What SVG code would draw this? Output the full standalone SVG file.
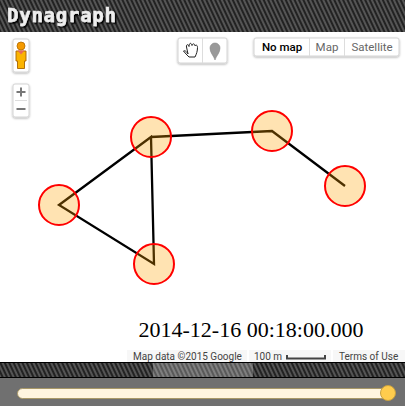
<svg xmlns="http://www.w3.org/2000/svg" width="405" height="406" viewBox="0 0 405 406">
<style>
.ui{font-family:"Roboto","Liberation Sans",sans-serif}
.node{fill:#ffa200;fill-opacity:.3;stroke:#ff0000;stroke-width:2}
.edge{stroke:#000;stroke-width:2.300;fill:none;stroke-linejoin:miter}
.ctl{fill:#fff;stroke:#d4d4d4;stroke-width:1;filter:url(#sh)}
.foot{font-size:10px;fill:#444}
.foot-bg{fill:#f5f5f5;fill-opacity:.8}
</style>
<defs>
<pattern id="st" width="4" height="4" patternUnits="userSpaceOnUse" patternTransform="rotate(-25)">
<rect width="4" height="4" fill="#222"/><rect width="2" height="4" fill="#555"/>
</pattern>
<filter id="sh" x="-20%" y="-20%" width="140%" height="140%"><feDropShadow dx="0" dy="1" stdDeviation="1" flood-color="#000" flood-opacity=".3"/></filter>
<filter id="ts" x="-5%" y="-20%" width="110%" height="150%"><feDropShadow dx="1.500" dy="1.500" stdDeviation="0.300" flood-color="#000" flood-opacity="1"/></filter>
</defs>
<rect width="405" height="406" fill="#fff"/>
<g id="header">
<rect width="405" height="32" fill="url(#st)"/>
<text x="7" y="22" font-family="'DejaVu Sans Mono',monospace" font-weight="700" font-size="19" letter-spacing=".75" fill="#eee" stroke="#eee" stroke-width=".5" filter="url(#ts)">Dynagraph</text>
</g>
<g id="map-controls">
<g id="pegman">
<rect class="ctl" x="13" y="39" width="16" height="33" rx="2"/>
<circle cx="21" cy="46" r="4" fill="#f59a00" stroke="#b06a00" stroke-width=".8"/>
<path d="M16 51H26V61H24.500V68.500H17.500V61H16Z" fill="#fbb400" stroke="#a86400" stroke-width=".9"/>
<path d="M17.500 50.500H24.500L21 54.500Z" fill="#e86a5a"/>
</g>
<g id="zoom">
<rect class="ctl" x="13" y="84" width="16" height="33" rx="2"/>
<path d="M15 100.500H27" stroke="#ddd"/>
<path d="M21 87.500V96.500M16.500 92H25.500M16.500 109H25.500" stroke="#777" stroke-width="2"/>
</g>
<g id="tools">
<rect class="ctl" x="178" y="38" width="49" height="25" rx="2"/>
<path d="M202.500 38V63" stroke="#ddd"/>
<path d="M183.500 51C185 50 187 52 188 54L186.500 47C186 44 188.500 44 189 46.500C189 42.500 191.500 42.500 192 45.500C192.500 43 195 43.500 195 46C196 44.500 197.500 45 197.500 47.500C197.500 51 196.500 54 195 57H189C187 55 185 53 183.500 51Z" fill="#fff" stroke="#222" stroke-width="1"/>
<path d="M215 60C214 56 210 53 210 48A5 5 0 0 1 220 48C220 53 216 56 215 60Z" fill="#999" stroke="#888" stroke-width=".6"/>
</g>
<g id="map-type">
<rect class="ctl" x="254" y="38" width="145" height="18" rx="2"/>
<path d="M309.500 38V56M344.500 38V56" stroke="#ddd"/>
<text class="ui" x="282" y="51" text-anchor="middle" font-size="11.500" font-weight="500" fill="#000">No map</text>
<text class="ui" x="327" y="51" text-anchor="middle" font-size="11.500" fill="#666">Map</text>
<text class="ui" x="372" y="51" text-anchor="middle" font-size="11.500" fill="#666">Satellite</text>
</g>
</g>
<g id="connectors">
<path class="edge" d="M151 137L59 205L154 264Z"/>
<path class="edge" d="M151 137L272 131L345 186"/>
</g>
<g id="n1"><circle class="node" cx="151" cy="137" r="20"/></g>
<g id="n2"><circle class="node" cx="59" cy="205" r="20"/></g>
<g id="n3"><circle class="node" cx="154" cy="264" r="20"/></g>
<g id="n4"><circle class="node" cx="272" cy="131" r="20"/></g>
<g id="n5"><circle class="node" cx="345" cy="186" r="20"/></g>
<text x="251" y="337" text-anchor="middle" font-family="'Liberation Serif',serif" font-size="22" fill="#000">2014-12-16 00:18:00.000</text>
<g id="attribution">
<rect class="foot-bg" x="127" y="350" width="120" height="12"/>
<rect class="foot-bg" x="249" y="350" width="82" height="12"/>
<rect class="foot-bg" x="333" y="350" width="72" height="12"/>
<text class="ui foot" x="133" y="360">Map data ©2015 Google</text>
<text class="ui foot" x="254" y="360">100 m</text>
<path d="M287 355V358.500H325V355" fill="none" stroke="#444" stroke-width="2"/>
<text class="ui foot" x="339" y="360">Terms of Use</text>
</g>
<g id="timeline">
<rect y="362" width="405" height="16" fill="url(#st)"/>
<rect x="153" y="362.500" width="100" height="15" fill="#fff" fill-opacity=".25"/>
<path d="M0 362.500H405M0 377.500H405" stroke="#000"/>
<rect y="378" width="405" height="28" fill="#707070"/>
<rect x="17.500" y="388.500" width="373" height="10" rx="5" fill="#fff5e0" stroke="#a89868"/>
<circle cx="388" cy="393" r="7.500" fill="#ffcc4d" stroke="#c8a040"/>
</g>
</svg>
